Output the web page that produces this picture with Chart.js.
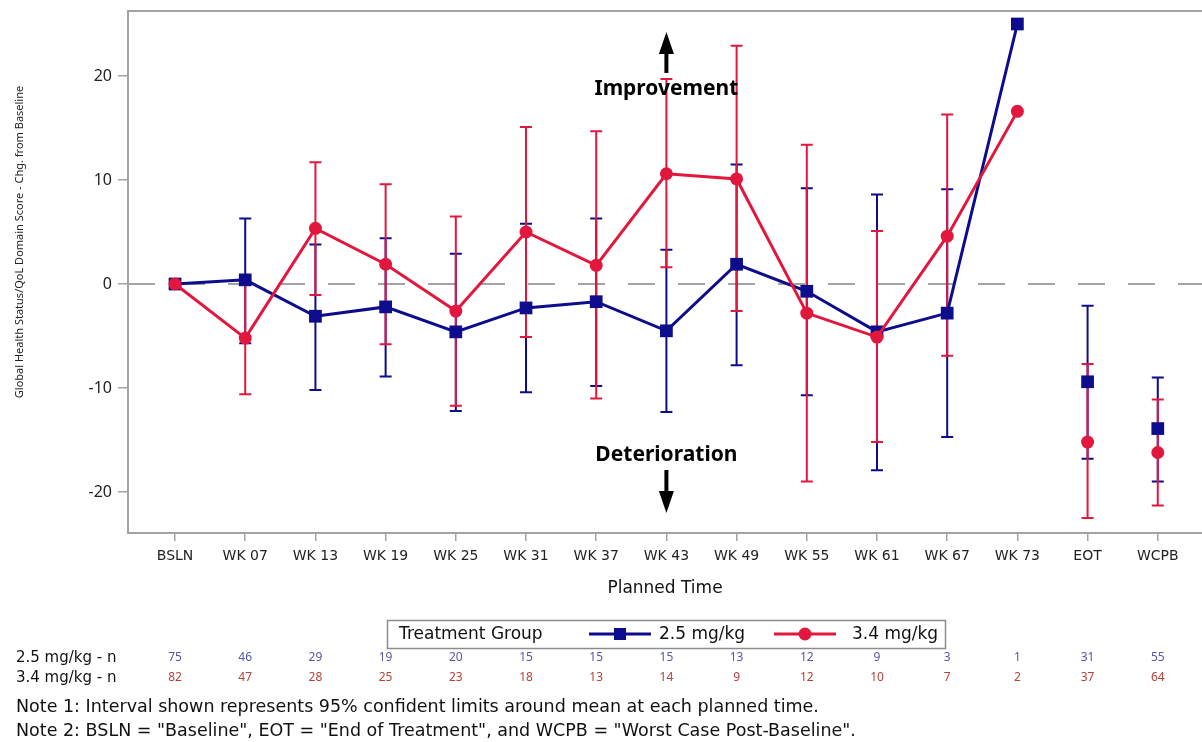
<!DOCTYPE html>
<html lang="en">
<head>
    <meta charset="UTF-8">
    <title>Global Health Status/QoL - Change from Baseline</title>
    <script src="https://cdn.jsdelivr.net/npm/chart.js"></script>
    <style>
        html, body { margin: 0; padding: 0; background: #fff; }
        .wrap { position: relative; width: 1202px; height: 742px; }
    </style>
</head>
<body>
    <div class="wrap">
        <canvas id="qolChart" width="1202" height="742"></canvas>
    </div>

    <script>
        // 時点ラベル
        const visits = ['BSLN', 'WK 07', 'WK 13', 'WK 19', 'WK 25', 'WK 31', 'WK 37', 'WK 43',
                        'WK 49', 'WK 55', 'WK 61', 'WK 67', 'WK 73', 'EOT', 'WCPB'];
        const yTicks = [-20, -10, 0, 10, 20];

        // 2.5 mg/kg
        const mean25  = [0, 0.4, -3.1, -2.2, -4.6, -2.3, -1.7, -4.5, 1.9, -0.7, -4.6, -2.8, 25.0, -9.4, -13.9];
        const lower25 = [null, -5.7, -10.2, -8.9, -12.2, -10.4, -9.8, -12.3, -7.8, -10.7, -17.9, -14.7, null, -16.8, -19.0];
        const upper25 = [null, 6.3, 3.8, 4.4, 2.9, 5.8, 6.3, 3.3, 11.5, 9.2, 8.6, 9.1, null, -2.1, -9.0];
        const n25     = [75, 46, 29, 19, 20, 15, 15, 15, 13, 12, 9, 3, 1, 31, 55];

        // 3.4 mg/kg
        const mean34  = [0, -5.2, 5.35, 1.9, -2.6, 5.0, 1.8, 10.6, 10.1, -2.8, -5.1, 4.6, 16.6, -15.2, -16.2];
        const lower34 = [null, -10.6, -1.05, -5.8, -11.7, -5.1, -11.0, 1.6, -2.6, -19.0, -15.2, -6.9, null, -22.5, -21.3];
        const upper34 = [null, 0.2, 11.7, 9.6, 6.5, 15.1, 14.7, 19.7, 22.9, 13.4, 5.1, 16.3, null, -7.7, -11.1];
        const n34     = [82, 47, 28, 25, 23, 18, 13, 14, 9, 12, 10, 7, 2, 37, 64];

        const BLUE = '#0c0c8c';
        const RED = '#e2173d';
        const GRAY = '#a3a3a3';
        const FONT = "'Noto Sans', 'Open Sans', sans-serif";
        const WIDE = "'DejaVu Sans', 'Noto Sans', sans-serif";
        const lastLinked = 12; // WK 73 まで線で結ぶ

        // 0 の破線と信頼区間
        const errorBars = {
            id: 'errorBars',
            beforeDatasetsDraw(chart) {
                const { ctx, chartArea, scales: { x, y } } = chart;
                ctx.save();
                // 上枠
                ctx.strokeStyle = GRAY;
                ctx.lineWidth = 2;
                ctx.beginPath();
                ctx.moveTo(chartArea.left, chartArea.top);
                ctx.lineTo(chartArea.right, chartArea.top);
                ctx.stroke();
                // 基準線
                const y0 = y.getPixelForValue(0);
                ctx.setLineDash([27, 23]);
                ctx.beginPath();
                ctx.moveTo(chartArea.left, y0);
                ctx.lineTo(chartArea.right, y0);
                ctx.stroke();
                ctx.setLineDash([]);

                [[lower25, upper25, BLUE], [lower34, upper34, RED]].forEach(([lo, hi, col]) => {
                    ctx.strokeStyle = col;
                    ctx.lineWidth = 2;
                    lo.forEach((v, i) => {
                        if (v === null) return;
                        const px = x.getPixelForValue(i);
                        const p1 = y.getPixelForValue(v);
                        const p2 = y.getPixelForValue(hi[i]);
                        ctx.beginPath();
                        ctx.moveTo(px, p1); ctx.lineTo(px, p2);
                        ctx.moveTo(px - 6, p1); ctx.lineTo(px + 6, p1);
                        ctx.moveTo(px - 6, p2); ctx.lineTo(px + 6, p2);
                        ctx.stroke();
                    });
                });
                ctx.restore();
            }
        };

        function arrow(ctx, x, yFrom, yTo) {
            const dir = yTo < yFrom ? -1 : 1;
            const headLen = 22;
            ctx.beginPath();
            ctx.lineWidth = 4;
            ctx.moveTo(x, yFrom);
            ctx.lineTo(x, yTo - dir * headLen);
            ctx.stroke();
            ctx.beginPath();
            ctx.moveTo(x, yTo);
            ctx.lineTo(x - 7.5, yTo - dir * headLen);
            ctx.lineTo(x + 7.5, yTo - dir * headLen);
            ctx.closePath();
            ctx.fill();
        }

        // 注釈・凡例・n 表
        const extras = {
            id: 'extras',
            afterDraw(chart) {
                const { ctx, scales: { x, y } } = chart;
                ctx.save();

                // y 軸タイトル
                ctx.save();
                ctx.translate(20, 242);
                ctx.rotate(-Math.PI / 2);
                ctx.font = `11px ${FONT}`;
                ctx.fillStyle = '#222';
                ctx.textAlign = 'center';
                ctx.textBaseline = 'middle';
                ctx.fillText('Global Health Status/QoL Domain Score - Chg. from Baseline', 0, 0);
                ctx.restore();

                // Improvement / Deterioration
                const ax = x.getPixelForValue(7);
                ctx.fillStyle = '#000';
                ctx.strokeStyle = '#000';
                ctx.font = `bold 21px ${FONT}`;
                ctx.textAlign = 'center';
                ctx.textBaseline = 'middle';
                ctx.fillText('Improvement', ax, 89);
                ctx.fillText('Deterioration', ax, 455);
                arrow(ctx, ax, 73, 32);
                arrow(ctx, ax, 470, 513);

                // 凡例
                ctx.strokeStyle = '#8c8c8c';
                ctx.lineWidth = 1.5;
                ctx.strokeRect(387.5, 620.5, 558, 28);
                ctx.font = `17px ${WIDE}`;
                ctx.fillStyle = '#111';
                ctx.textAlign = 'left';
                ctx.fillText('Treatment Group', 399, 635);
                ctx.lineWidth = 3;
                ctx.strokeStyle = BLUE;
                ctx.beginPath(); ctx.moveTo(589, 634); ctx.lineTo(651, 634); ctx.stroke();
                ctx.fillStyle = BLUE;
                ctx.fillRect(614, 628, 12, 12);
                ctx.strokeStyle = RED;
                ctx.beginPath(); ctx.moveTo(774, 634); ctx.lineTo(836, 634); ctx.stroke();
                ctx.fillStyle = RED;
                ctx.beginPath(); ctx.arc(805, 634, 6.5, 0, Math.PI * 2); ctx.fill();
                ctx.fillStyle = '#111';
                ctx.fillText('2.5 mg/kg', 659, 635);
                ctx.fillText('3.4 mg/kg', 852, 635);

                // n 表
                ctx.font = `15px ${WIDE}`;
                ctx.fillText('2.5 mg/kg - n', 16, 658);
                ctx.fillText('3.4 mg/kg - n', 16, 678);
                ctx.font = `12px ${FONT}`;
                ctx.textAlign = 'center';
                visits.forEach((_, i) => {
                    const px = x.getPixelForValue(i);
                    ctx.fillStyle = '#5656a6';
                    ctx.fillText(String(n25[i]), px, 658);
                    ctx.fillStyle = '#b5413a';
                    ctx.fillText(String(n34[i]), px, 678);
                });

                // 注記
                ctx.font = `17.5px ${WIDE}`;
                ctx.fillStyle = '#111';
                ctx.textAlign = 'left';
                ctx.fillText('Note 1: Interval shown represents 95% confident limits around mean at each planned time.', 16, 707);
                ctx.fillText('Note 2: BSLN = "Baseline", EOT = "End of Treatment", and WCPB = "Worst Case Post-Baseline".', 16, 731);
                ctx.restore();
            }
        };

        // 目盛ラベルによる自動余白を消す
        const noPad = s => { s.paddingTop = 0; s.paddingBottom = 0; s.paddingLeft = 0; s.paddingRight = 0; };

        const ctx = document.getElementById('qolChart').getContext('2d');
        const hideTail = c => (c.p1DataIndex > lastLinked ? 'rgba(0,0,0,0)' : undefined);

        const chart = new Chart(ctx, {
            type: 'line',
            data: {
                datasets: [{
                    label: '2.5 mg/kg',
                    data: mean25.map((v, i) => ({ x: i, y: v })),
                    borderColor: BLUE,
                    backgroundColor: BLUE,
                    borderWidth: 3,
                    pointStyle: 'rect',
                    pointRadius: 9,
                    pointBorderWidth: 0,
                    segment: { borderColor: hideTail },
                    order: 2
                }, {
                    label: '3.4 mg/kg',
                    data: mean34.map((v, i) => ({ x: i, y: v })),
                    borderColor: RED,
                    backgroundColor: RED,
                    borderWidth: 3,
                    pointStyle: 'circle',
                    pointRadius: 6.5,
                    pointBorderWidth: 0,
                    segment: { borderColor: hideTail },
                    order: 1
                }]
            },
            options: {
                responsive: false,
                animation: false,
                layout: { autoPadding: false, padding: { top: 11, left: 0, right: 0, bottom: 142 } },
                plugins: {
                    legend: { display: false },
                    tooltip: { enabled: false }
                },
                scales: {
                    x: {
                        type: 'linear',
                        min: -0.67,
                        max: 14.63,
                        afterBuildTicks: s => { s.ticks = visits.map((_, i) => ({ value: i })); },
                        afterFit: s => { s.height = 67; noPad(s); },
                        ticks: {
                            autoSkip: false,
                            maxRotation: 0,
                            padding: 7,
                            color: '#222',
                            font: { family: WIDE, size: 14 },
                            callback: v => visits[v]
                        },
                        grid: { drawOnChartArea: false, drawTicks: true, tickLength: 8, color: GRAY, lineWidth: 1.5 },
                        border: { color: GRAY, width: 2 },
                        title: {
                            display: true,
                            text: 'Planned Time',
                            color: '#111',
                            font: { family: WIDE, size: 17 },
                            padding: { top: 0, bottom: 1 }
                        }
                    },
                    y: {
                        min: -23.94,
                        max: 26.25,
                        afterBuildTicks: s => { s.ticks = yTicks.map(v => ({ value: v })); },
                        afterFit: s => { s.width = 128; noPad(s); },
                        ticks: {
                            padding: 6,
                            color: '#222',
                            font: { family: FONT, size: 16 }
                        },
                        grid: { drawOnChartArea: false, drawTicks: true, tickLength: 10, color: GRAY, lineWidth: 1.5 },
                        border: { color: GRAY, width: 2 }
                    }
                }
            },
            plugins: [errorBars, extras]
        });
    </script>
</body>
</html>
